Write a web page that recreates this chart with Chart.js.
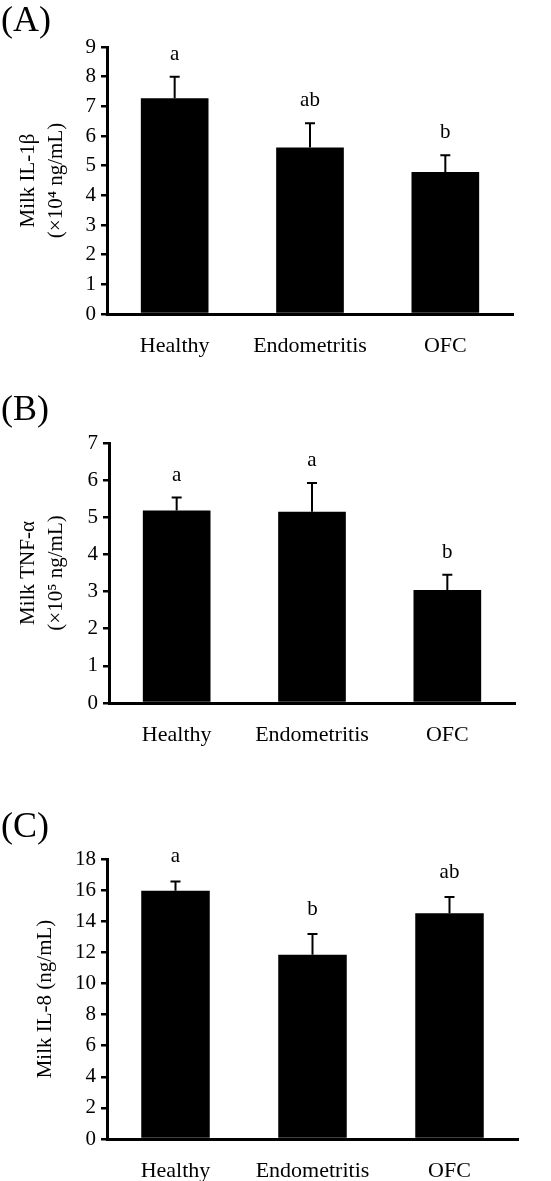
<!DOCTYPE html>
<html>
<head>
<meta charset="utf-8">
<script src="https://cdn.jsdelivr.net/npm/chart.js@4.4.1/dist/chart.umd.min.js"></script>
<style>
  body { margin: 0; background: #fff; }
  .panel { position: absolute; left: 0; width: 551px; }
  canvas { display: block; }
</style>
</head>
<body>
<div class="panel" style="top:0;height:380px"><canvas id="chartA" width="551" height="380"></canvas></div>
<div class="panel" style="top:380px;height:400px"><canvas id="chartB" width="551" height="400"></canvas></div>
<div class="panel" style="top:780px;height:401px"><canvas id="chartC" width="551" height="401"></canvas></div>
<script>
const categories = ["Healthy", "Endometritis", "OFC"];

// (A) IL-1β, x10^4 ng/mL
const il1bMeans = [7.27, 5.61, 4.79];
const il1bSem = [0.73, 0.82, 0.56];
const il1bLetters = ["a", "ab", "b"];

// (B) TNF-α, x10^5 ng/mL
const tnfMeans = [5.18, 5.15, 3.04];
const tnfSem = [0.35, 0.77, 0.41];
const tnfLetters = ["a", "a", "b"];

// (C) IL-8, ng/mL
const il8Means = [15.96, 11.85, 14.52];
const il8Sem = [0.6, 1.33, 1.03];
const il8Letters = ["a", "b", "ab"];

const serif = "'Liberation Serif', 'Times New Roman', serif";
Chart.defaults.font.family = serif;
Chart.defaults.font.size = 21;
Chart.defaults.color = "#000";

// error bars, significance letters and the panel tag
const extras = {
  id: "extras",
  afterDatasetsDraw(chart, args, opts) {
    const ctx = chart.ctx;
    const y = chart.scales.y;
    const meta = chart.getDatasetMeta(0);
    ctx.save();
    ctx.strokeStyle = "#000";
    ctx.fillStyle = "#000";
    meta.data.forEach((bar, i) => {
      const top = y.getPixelForValue(opts.means[i] + opts.sem[i]);
      const base = y.getPixelForValue(opts.means[i]);
      ctx.lineWidth = 2;
      ctx.beginPath();
      ctx.moveTo(bar.x, base);
      ctx.lineTo(bar.x, top);
      ctx.moveTo(bar.x - 5, top);
      ctx.lineTo(bar.x + 5, top);
      ctx.stroke();
      ctx.font = "21px " + serif;
      ctx.textAlign = "center";
      ctx.textBaseline = "alphabetic";
      ctx.fillText(opts.letters[i], bar.x, top - opts.letterGap);
    });
    ctx.font = "36px " + serif;
    ctx.textAlign = "left";
    ctx.fillText(opts.tag, 1, opts.tagY);
    ctx.restore();
  },
};

function makeChart(id, cfg) {
  return new Chart(document.getElementById(id), {
    type: "bar",
    data: {
      labels: categories,
      datasets: [
        {
          data: cfg.means,
          backgroundColor: "#000",
          borderWidth: 0,
          categoryPercentage: 1,
          barPercentage: 0.5,
        },
      ],
    },
    options: {
      responsive: false,
      animation: false,
      layout: { padding: { top: cfg.top, right: cfg.right, left: 0, bottom: 0 } },
      plugins: {
        legend: { display: false },
        tooltip: { enabled: false },
        extras: {
          means: cfg.means,
          sem: cfg.sem,
          letters: cfg.letters,
          letterGap: cfg.letterGap,
          tag: cfg.tag,
          tagY: cfg.tagY,
        },
      },
      scales: {
        x: {
          grid: { display: false },
          border: { display: true, color: "#000", width: 3 },
          ticks: { padding: 11, font: { size: 22 }, maxRotation: 0 },
          afterFit(scale) {
            scale.height = cfg.xHeight;
          },
        },
        y: {
          min: 0,
          max: cfg.max,
          ticks: { stepSize: cfg.step, padding: 5, font: { size: 21 } },
          grid: {
            drawOnChartArea: false,
            drawTicks: true,
            tickLength: 6,
            color: "#000",
            lineWidth: 2.5,
          },
          border: { display: true, color: "#000", width: 3 },
          title: {
            display: true,
            text: cfg.title,
            font: { size: 21, lineHeight: 1.33 },
            padding: { top: cfg.titlePad, bottom: 0 },
          },
          afterFit(scale) {
            scale.width = cfg.yWidth;
          },
        },
      },
    },
    plugins: [extras],
  });
}

makeChart("chartA", {
  means: il1bMeans,
  sem: il1bSem,
  letters: il1bLetters,
  max: 9,
  step: 1,
  title: ["Milk IL-1β", "(×10⁴ ng/mL)"],
  titlePad: 15,
  top: 47,
  right: 38,
  yWidth: 107,
  xHeight: 66,
  letterGap: 17,
  tag: "(A)",
  tagY: 31,
});

makeChart("chartB", {
  means: tnfMeans,
  sem: tnfSem,
  letters: tnfLetters,
  max: 7,
  step: 1,
  title: ["Milk TNF-α", "(×10⁵ ng/mL)"],
  titlePad: 15,
  top: 63,
  right: 36,
  yWidth: 109,
  xHeight: 77,
  letterGap: 17,
  tag: "(B)",
  tagY: 40,
});

makeChart("chartC", {
  means: il8Means,
  sem: il8Sem,
  letters: il8Letters,
  max: 18,
  step: 2,
  title: "Milk IL-8 (ng/mL)",
  titlePad: 32,
  top: 79,
  right: 33,
  yWidth: 107,
  xHeight: 42,
  letterGap: 19,
  tag: "(C)",
  tagY: 57,
});
</script>
</body>
</html>
